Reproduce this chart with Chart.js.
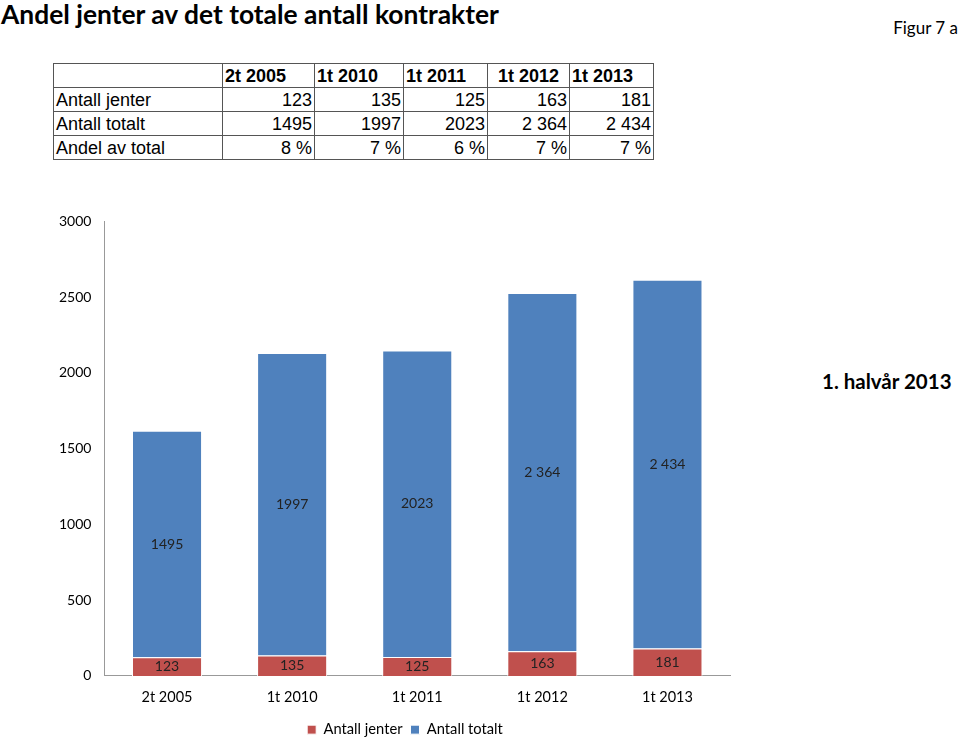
<!DOCTYPE html>
<html>
<head>
<meta charset="utf-8">
<script src="https://cdn.jsdelivr.net/npm/chart.js@4/dist/chart.umd.min.js"></script>
<style>
    body { margin: 0; background: #fff; width: 960px; height: 739px; position: relative; overflow: hidden; }
    #tittel { position: absolute; left: 1px; top: -2px; font: bold 26.4px Lato, sans-serif; color: #000; }
    #figur { position: absolute; right: 2px; top: 17px; font: 17px Lato, sans-serif; color: #000; }
    #halvar { position: absolute; left: 822px; top: 369px; font: bold 20.5px Lato, sans-serif; color: #000; }
    #tabell { position: absolute; left: 53px; top: 63px; border-collapse: collapse; font: 18px "Liberation Sans", Arial, sans-serif; z-index: 2; }
    #tabell td { border: 1px solid #555; height: 23px; padding: 0 2px; text-align: right; line-height: 22px; white-space: nowrap; }
    #tabell td.navn { text-align: left; }
    #tabell tr.hode td { font-weight: bold; text-align: left; }
    #graf { position: absolute; left: 0; top: 200px; }
</style>
</head>
<body>
<div id="tittel">Andel jenter av det totale antall kontrakter</div>
<div id="figur">Figur 7 a</div>
<table id="tabell"></table>
<div id="halvar">1. halvår 2013</div>
<canvas id="graf" width="810" height="552"></canvas>
<script>
"use strict"

var kategorier = ['2t 2005', '1t 2010', '1t 2011', '1t 2012', '1t 2013'];
var antallJenter = [123, 135, 125, 163, 181];
var antallTotalt = [1495, 1997, 2023, 2364, 2434];
var totaltTekst = ['1495', '1997', '2023', '2 364', '2 434'];
var andelTekst = ['8 %', '7 %', '6 %', '7 %', '7 %'];
var kolonneBredder = [169, 92, 89, 84, 82, 84];

var lagTabell = function() {
    var tabell = document.getElementById('tabell');
    var rader = [
        ['', kategorier, 'hode'],
        ['Antall jenter', antallJenter.map(String), ''],
        ['Antall totalt', totaltTekst, ''],
        ['Andel av total', andelTekst, '']
    ];
    rader.forEach(function(rad) {
        var tr = document.createElement('tr');
        if (rad[2]) tr.className = rad[2];
        var celler = [rad[0]].concat(rad[1]);
        celler.forEach(function(tekst, i) {
            var td = document.createElement('td');
            var ekstra = 0;
            td.textContent = tekst;
            if (i == 0) td.className = 'navn';
            if (rad[2] && i == 4) {
                ekstra = 8;
                td.style.paddingLeft = '10px';
            }
            td.style.width = (kolonneBredder[i] - 5 - ekstra) + 'px';
            tr.appendChild(td);
        });
        tabell.appendChild(tr);
    });
};
lagTabell();

// skriver verdiene midt i hver stolpe
var verdiEtiketter = {
    id: 'verdiEtiketter',
    afterDatasetsDraw: function(chart) {
        var ctx = chart.ctx;
        ctx.save();
        ctx.font = '14px Lato, sans-serif';
        ctx.fillStyle = '#222';
        ctx.textAlign = 'center';
        ctx.textBaseline = 'middle';
        chart.data.datasets.forEach(function(ds, d) {
            var meta = chart.getDatasetMeta(d);
            meta.data.forEach(function(bar, i) {
                var midt = (bar.y + bar.base) / 2;
                ctx.fillText(ds.etiketter[i], bar.x, midt);
            });
        });
        ctx.restore();
    }
};

// flytter forklaringen litt, som i originalen
var flyttForklaring = {
    id: 'flyttForklaring',
    afterLayout: function(chart) {
        chart.legend.left += 34;
        chart.legend.right = chart.chartArea.right;
        chart.legend.top -= 5;
        chart.legend.bottom -= 5;
    }
};

new Chart(document.getElementById('graf'), {
    type: 'bar',
    data: {
        labels: kategorier,
        datasets: [
            {
                label: 'Antall jenter',
                data: antallJenter,
                etiketter: antallJenter.map(String),
                backgroundColor: '#c0504d',
                borderColor: '#ffffff',
                borderWidth: 1
            },
            {
                label: 'Antall totalt',
                data: antallTotalt,
                etiketter: totaltTekst,
                backgroundColor: '#4f81bd',
                borderColor: '#ffffff',
                borderWidth: 1
            }
        ]
    },
    options: {
        responsive: false,
        animation: false,
        layout: { padding: { left: 46, right: 80, top: 16, bottom: 0 } },
        categoryPercentage: 1,
        barPercentage: 0.56,
        plugins: {
            legend: {
                position: 'bottom',
                labels: {
                    boxWidth: 9, boxHeight: 9, padding: 8,
                    color: '#000',
                    font: { family: 'Lato, sans-serif', size: 14.7 }
                }
            },
            tooltip: { enabled: false }
        },
        scales: {
            x: {
                stacked: true,
                grid: { display: false, drawTicks: false },
                border: { color: '#999' },
                ticks: { color: '#000', padding: 13, font: { family: 'Lato, sans-serif', size: 14.5 } }
            },
            y: {
                stacked: true,
                min: 0, max: 3000,
                grid: { display: false, drawTicks: false },
                border: { color: '#999' },
                ticks: {
                    stepSize: 500, color: '#000', padding: 13,
                    font: { family: 'Lato, sans-serif', size: 14 },
                    callback: function(verdi) { return String(verdi); }
                }
            }
        }
    },
    plugins: [verdiEtiketter, flyttForklaring]
});
</script>
</body>
</html>
